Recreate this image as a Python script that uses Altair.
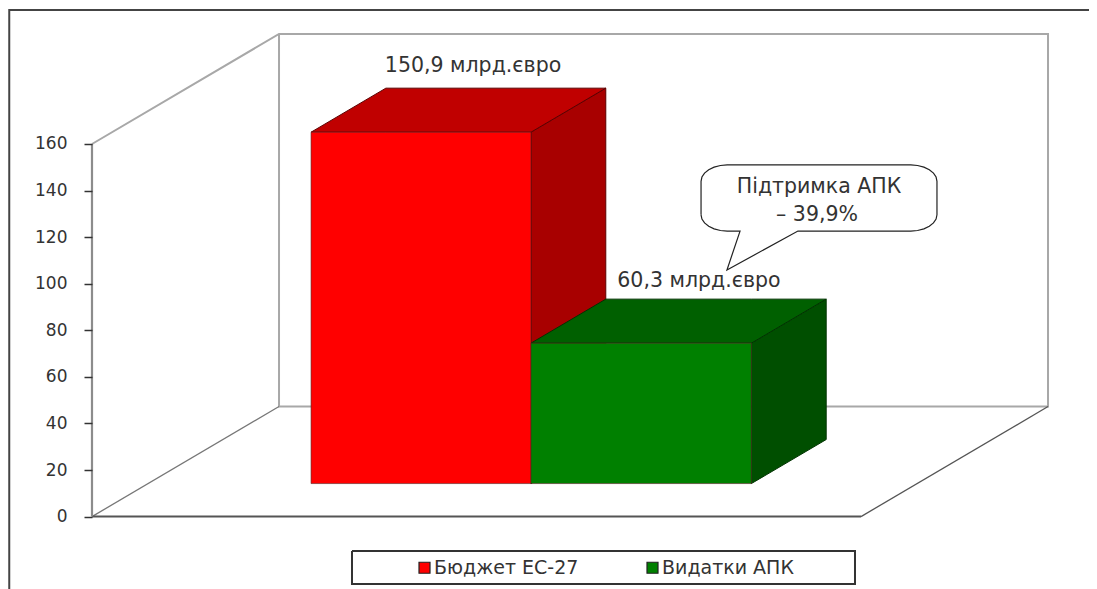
import math
import altair as alt
import pandas as pd

# --- chart values ---
series = ["Бюджет ЕС-27", "Видатки АПК"]
values = [150.9, 60.3]
value_labels = ["150,9 млрд.євро", "60,3 млрд.євро"]
bubble_lines = ["Підтримка АПК", "– 39,9%"]
y_ticks = [0, 20, 40, 60, 80, 100, 120, 140, 160]
front_colors = ["#ff0000", "#008000"]
top_colors = ["#c00000", "#006000"]
side_colors = ["#a80000", "#004f00"]
edge_colors = ["#5c0000", "#003300"]

# --- 3-D box layout, in chart units ---
bar_edges = [0.2119, 0.4979, 0.7845]   # along the floor width (0..1)
depth_front, depth_back = 0.3, 0.7     # floor depth fractions
wall_top = 160.0
DX, DV = 0.2432, 47.25                 # oblique shift of full depth

X_DOMAIN = [-0.10923, 1.2965]
Y_DOMAIN = [-31.1, 218.4]
FONT = "DejaVu Sans"


def proj(x, d, v):
    return x + d * DX, v + d * DV


def polygon_table(points):
    """Convex polygon -> upper/lower envelope table for an area mark."""
    xs = sorted({round(p[0], 6) for p in points})
    n = len(points)
    rows = []
    for x in xs:
        hits = []
        for i in range(n):
            (x1, y1), (x2, y2) = points[i], points[(i + 1) % n]
            lo, hi = min(x1, x2), max(x1, x2)
            if lo - 1e-6 <= x <= hi + 1e-6:
                if abs(x2 - x1) < 1e-6:
                    hits += [y1, y2]
                else:
                    hits.append(y1 + (y2 - y1) * (x - x1) / (x2 - x1))
        rows.append({"x": x, "y": min(hits), "y2": max(hits)})
    return pd.DataFrame(rows)


xs = alt.X("x:Q", scale=alt.Scale(domain=X_DOMAIN), axis=None)
ys = alt.Y("y:Q", scale=alt.Scale(domain=Y_DOMAIN),
           axis=alt.Axis(values=y_ticks, offset=-84, domain=False, grid=False,
                         tickSize=8, tickColor="#333333", tickWidth=1.5,
                         labelFontSize=17, labelColor="#333333",
                         labelFont=FONT, labelPadding=17, title=None,
                         zindex=1))


def poly(points, fill, stroke=None, width=1):
    kw = {"fill": fill}
    if stroke:
        kw.update(stroke=stroke, strokeWidth=width)
    return alt.Chart(polygon_table(points)).mark_area(**kw).encode(
        x=xs, y=ys, y2="y2:Q")


def polyline(points, color, width):
    t = pd.DataFrame([{"x": p[0], "y": p[1], "o": i} for i, p in enumerate(points)])
    return alt.Chart(t).mark_line(color=color, strokeWidth=width, clip=False).encode(
        x=xs, y=ys, order="o:Q")


layers = []

# frame
layers.append(polyline([(1.2965, 217.5), (-0.1076, 217.5), (-0.1076, -31.1)], "#444444", 2))

# legend box
layers.append(polyline([(0.3381, -14.8), (0.9922, -14.8), (0.9922, -29.0),
                        (0.3381, -29.0), (0.3381, -14.8)], "#333333", 2))

# walls and floor
layers.append(polyline([proj(0, 0, wall_top), proj(0, 1, wall_top), proj(1, 1, wall_top),
                        proj(1, 1, 0), proj(0, 1, 0), proj(0, 1, wall_top)], "#a8a8a8", 2))
layers.append(polyline([proj(0, 0, 0), proj(0, 1, 0)], "#777777", 1.3))
layers.append(polyline([proj(1, 0, 0), proj(1, 1, 0)], "#555555", 1.3))
layers.append(polyline([proj(0, 0, 0), proj(1, 0, 0)], "#555555", 2))
layers.append(polyline([proj(0, 0, 0), proj(0, 0, wall_top)], "#8c8c8c", 2.2))

# bars: back to front, left to right
for i, val in enumerate(values):
    x0, x1 = bar_edges[i], bar_edges[i + 1]
    side = [proj(x1, depth_front, 0), proj(x1, depth_back, 0),
            proj(x1, depth_back, val), proj(x1, depth_front, val)]
    top = [proj(x0, depth_front, val), proj(x1, depth_front, val),
           proj(x1, depth_back, val), proj(x0, depth_back, val)]
    layers.append(poly(side, side_colors[i], edge_colors[i]))
    layers.append(poly(top, top_colors[i], edge_colors[i]))

fronts = pd.DataFrame([
    {
        "series": series[i],
        "x": proj(bar_edges[i], depth_front, 0)[0],
        "x2": proj(bar_edges[i + 1], depth_front, 0)[0],
        "y": proj(0, depth_front, 0)[1],
        "y2": proj(0, depth_front, values[i])[1],
    }
    for i in range(len(values))
])
layers.append(
    alt.Chart(fronts).mark_rect(strokeWidth=1, stroke="#552222", strokeOpacity=0.6).encode(
        x=xs, x2="x2:Q", y=ys, y2="y2:Q",
        color=alt.Color("series:N",
                        scale=alt.Scale(domain=series, range=front_colors),
                        legend=alt.Legend(
                            orient="none", legendX=407, legendY=550, title=None,
                            direction="horizontal", columns=2, columnPadding=64,
                            symbolType="square", symbolSize=121,
                            symbolStrokeColor="#222222", symbolStrokeWidth=1.2,
                            symbolOpacity=1, labelOffset=0,
                            labelFont=FONT, labelFontSize=19,
                            labelColor="#333333", zindex=1)),
    )
)

# callout bubble
bx0, bx1, bv0, bv1 = 0.792, 1.0988, 122.6, 151.0
rx, rv = 0.034, 7.0
tip = (0.8257, 105.9)
base_l, base_r = 0.8427, 0.918


def corner(cx, cv, sx, sv, reverse=False):
    pts = [(cx + sx * rx * math.cos(math.radians(a)), cv + sv * rv * math.sin(math.radians(a)))
           for a in (0, 15, 30, 45, 60, 75, 90)]
    return pts[::-1] if reverse else pts


bl = corner(bx0 + rx, bv0 + rv, -1, -1)           # left side -> bottom
br = corner(bx1 - rx, bv0 + rv, 1, -1, True)      # bottom -> right side
tr = corner(bx1 - rx, bv1 - rv, 1, 1)             # right side -> top
tl = corner(bx0 + rx, bv1 - rv, -1, 1, True)      # top -> left side
layers.append(poly(bl + br + tr + tl, "#ffffff"))
layers.append(poly([(base_l, bv0 + 0.5), tip, (base_r, bv0 + 0.5)], "#ffffff"))
outline = bl + [(base_l, bv0), tip, (base_r, bv0)] + br + tr + tl + [bl[0]]
layers.append(polyline(outline, "#222222", 1.2))

# text
texts = pd.DataFrame([
    {"x": 0.4955, "y": 193.5, "t": value_labels[0]},
    {"x": 0.7893, "y": 101.2, "t": value_labels[1]},
    {"x": 0.9454, "y": 141.5, "t": bubble_lines[0]},
    {"x": 0.9428, "y": 129.5, "t": bubble_lines[1]},
])
layers.append(
    alt.Chart(texts).mark_text(font=FONT, fontSize=20.5, color="#333333").encode(
        x=xs, y=ys, text="t:N")
)

chart = (
    alt.layer(*layers)
    .properties(width=1081, height=581,
                autosize=alt.AutoSizeParams(type="none"), padding=0, background="#ffffff")
    .configure_view(stroke=None)
)

chart.save("out.html", embed_options={"renderer": "svg", "actions": False})
